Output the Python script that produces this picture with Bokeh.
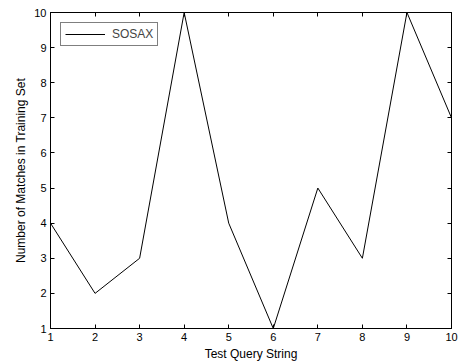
from bokeh.plotting import figure
from bokeh.models import Range1d, LinearAxis, FixedTicker, Legend, LegendItem
from bokeh.embed import file_html
from bokeh.resources import INLINE

queries = [1, 2, 3, 4, 5, 6, 7, 8, 9, 10]
matches = [4, 2, 3, 10, 4, 1, 5, 3, 10, 7]
x_ticks = [1, 2, 3, 4, 5, 6, 7, 8, 9, 10]
y_ticks = [1, 2, 3, 4, 5, 6, 7, 8, 9, 10]

FONT = "Liberation Sans"

p = figure(width=460, height=363, output_backend="svg", toolbar_location=None,
           x_range=Range1d(1, 10), y_range=Range1d(1, 10),
           min_border_left=50, min_border_right=9, min_border_top=12, min_border_bottom=35,
           x_axis_label="Test Query String", y_axis_label="Number of Matches in Training Set")
p.grid.visible = False
p.outline_line_color = "black"
p.outline_line_width = 1
p.background_fill_color = "white"
p.border_fill_color = "white"

for ax in p.xaxis + p.yaxis:
    ax.major_tick_in = 4
    ax.major_tick_out = 0
    ax.minor_tick_line_color = None
    ax.axis_line_color = "black"
    ax.major_tick_line_color = "black"
    ax.major_label_text_font = FONT
    ax.major_label_text_font_size = "11px"
    ax.major_label_text_color = "black"
    ax.axis_label_text_font = FONT
    ax.axis_label_text_font_size = "12px"
    ax.axis_label_text_font_style = "normal"
    ax.axis_label_text_color = "black"
    ax.major_label_standoff = 4
    ax.axis_label_standoff = 3
p.xaxis.ticker = FixedTicker(ticks=x_ticks)
p.yaxis.ticker = FixedTicker(ticks=y_ticks)

top = LinearAxis(ticker=FixedTicker(ticks=x_ticks),
                 major_label_overrides={t: "" for t in x_ticks},
                 major_tick_in=4, major_tick_out=0, minor_tick_line_color=None,
                 major_label_standoff=0)
right = LinearAxis(ticker=FixedTicker(ticks=y_ticks),
                   major_label_overrides={t: "" for t in y_ticks},
                   major_tick_in=4, major_tick_out=0, minor_tick_line_color=None,
                   major_label_standoff=0)
p.add_layout(top, "above")
p.add_layout(right, "right")

r = p.line(queries, matches, line_color="black", line_width=1)

legend = Legend(items=[LegendItem(label="SOSAX", renderers=[r])], location="top_left",
                margin=10, padding=4, label_height=14, glyph_height=14, glyph_width=40,
                label_standoff=7, label_text_font=FONT, label_text_font_size="12px",
                border_line_color="black", border_line_width=1, background_fill_alpha=1,
                spacing=0)
p.add_layout(legend)

open("out.html", "w").write(file_html(p, INLINE))
